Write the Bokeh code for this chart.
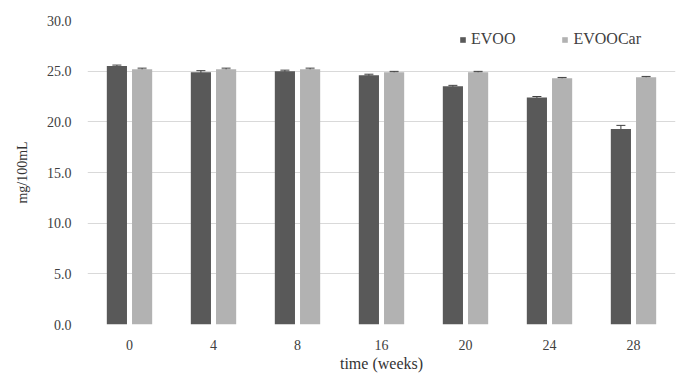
from bokeh.plotting import figure
from bokeh.models import ColumnDataSource, FixedTicker, NumeralTickFormatter, Whisker, Legend, LegendItem
from bokeh.transform import dodge
from bokeh.embed import file_html
from bokeh.resources import INLINE

weeks = ["0", "4", "8", "16", "20", "24", "28"]
evoo = [25.5, 24.9, 25.0, 24.6, 23.5, 22.4, 19.3]
evoo_err = [0.1, 0.15, 0.1, 0.1, 0.1, 0.1, 0.35]
evoocar = [25.2, 25.2, 25.2, 24.9, 24.9, 24.3, 24.4]
evoocar_err = [0.1, 0.1, 0.1, 0.08, 0.08, 0.08, 0.08]
y_ticks = [0, 5, 10, 15, 20, 25, 30]

src = ColumnDataSource(dict(
    t=weeks, evoo=evoo, evoocar=evoocar,
    evoo_lo=[v - e for v, e in zip(evoo, evoo_err)],
    evoo_hi=[v + e for v, e in zip(evoo, evoo_err)],
    car_lo=[v - e for v, e in zip(evoocar, evoocar_err)],
    car_hi=[v + e for v, e in zip(evoocar, evoocar_err)],
))

FONT = "Liberation Serif"
DARK = "#595959"
LIGHT = "#b2b2b2"

p = figure(x_range=weeks, y_range=(0, 30), width=680, height=374,
           output_backend="svg", toolbar_location=None,
           min_border_left=87, min_border_right=5, min_border_top=20, min_border_bottom=50)
p.outline_line_color = None

r1 = p.vbar(x=dodge("t", -0.15, range=p.x_range), top="evoo", width=0.24, source=src,
            fill_color=DARK, line_color=None)
r2 = p.vbar(x=dodge("t", 0.15, range=p.x_range), top="evoocar", width=0.24, source=src,
            fill_color=LIGHT, line_color=None)

for base_off, lo, hi in [(-0.15, "evoo_lo", "evoo_hi"), (0.15, "car_lo", "car_hi")]:
    w = Whisker(base=dodge("t", base_off, range=p.x_range), lower=lo, upper=hi, source=src,
                line_color="#404040", line_width=1)
    w.upper_head.size = 9
    w.lower_head.size = 9
    w.upper_head.line_color = "#404040"
    w.lower_head.line_color = "#404040"
    p.add_layout(w)

p.yaxis.ticker = FixedTicker(ticks=y_ticks)
p.yaxis.formatter = NumeralTickFormatter(format="0.0")
p.xgrid.grid_line_color = None
p.ygrid.grid_line_color = "#d9d9d9"
p.ygrid.ticker = FixedTicker(ticks=y_ticks)

for ax in (p.xaxis, p.yaxis):
    ax.axis_line_color = None
    ax.major_tick_line_color = None
    ax.minor_tick_line_color = None
    ax.major_label_text_font = FONT
    ax.major_label_text_font_size = "14px"
    ax.major_label_text_color = "#404040"
    ax.axis_label_text_font = FONT
    ax.axis_label_text_font_style = "normal"
    ax.axis_label_text_color = "#333333"

p.xaxis.axis_label = "time (weeks)"
p.xaxis.axis_label_text_font_size = "16px"
p.xaxis.major_label_standoff = 9
p.xaxis.axis_label_standoff = 2
p.yaxis.axis_label = "mg/100mL"
p.yaxis.axis_label_text_font_size = "14px"
p.yaxis.major_label_standoff = 10
p.yaxis.axis_label_standoff = 14

legend = Legend(items=[LegendItem(label="EVOO", renderers=[r1]),
                       LegendItem(label="EVOOCar", renderers=[r2])],
                orientation="horizontal", location=(372, 276),
                background_fill_alpha=0, border_line_color=None,
                label_text_font=FONT, label_text_font_size="16px",
                label_text_color="#404040",
                glyph_width=7, glyph_height=7, spacing=46, label_standoff=5,
                margin=0, padding=2)
p.add_layout(legend)

open("out.html", "w").write(file_html(p, INLINE))
